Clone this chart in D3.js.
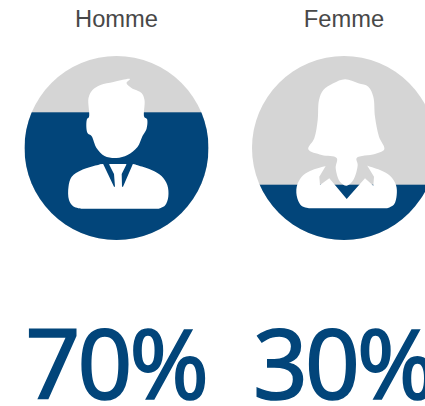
<!DOCTYPE html>
<html><head><meta charset="utf-8">
<script src="https://cdn.jsdelivr.net/npm/d3@7"></script>
<style>html,body{margin:0;padding:0;background:#fff;overflow:hidden}svg{display:block}</style>
</head><body>
<script>
const categories = ["Homme", "Femme"];
const values = [70, 30];
const valueLabels = ["70%", "30%"];
const blue = "#02457a", grey = "#d5d5d5";
const W = 425, H = 406, R = 92, CY = 148;
const x = d3.scaleOrdinal().domain(categories).range([116.5, 344]);
const y = d3.scaleLinear().domain([0, 100]).range([239, 58]);
const svg = d3.select("body").append("svg").attr("width", W).attr("height", H);
const defs = svg.append("defs");
const closedCurve = d3.line().curve(d3.curveCatmullRomClosed.alpha(0.5));
const openCurve = d3.line().curve(d3.curveCatmullRom.alpha(0.5));
const poly = pts => "M" + pts.map(p => p.join(",")).join("L") + "Z";
const cont = s => "L" + s.slice(1);
// icon outlines, pixels relative to the circle centre
const manHead = [[13.5,-69],[10,-65],[15,-60],[25,-55],[28,-48],[27.8,-31],[30.5,-29],[30,-19],[26,-12],[21,-1],[11,7],[0,10],[-12,8],[-20,0],[-25,-12],[-29,-15],[-29.5,-29],[-27.5,-31],[-28,-50],[-24,-58],[-16,-63],[-3,-66]];
const manLeft = [[-14.8,16],[-34.8,22],[-44.8,28.7],[-48,38.7],[-47.5,52],[-43,58.5],[-35,60.7]];
const manRight = [[42,60.7],[48.5,57.5],[51.8,48.7],[50.8,37],[45,28],[35,22],[16.8,16]];
const manWedgeL = [[-13.8,15],[-7.2,15],[-7.2,16.7],[-2.5,26],[-1.5,38.7],[-2.5,38.7]];
const manWedgeR = [[16.8,15],[9.8,15],[9.8,16.7],[5.2,26],[5.5,38.7],[6.5,38.7]];
const womanHair = [[1,-68.7],[14.3,-64.7],[24.3,-61.3],[29.3,-51.3],[31,-31.3],[35,-11.3],[40.3,1.3],[31,6],[12.7,10],[13.7,17],[9.3,32],[2.7,37.7],[-4,33.7],[-8.3,20.3],[-7.3,10],[-22.3,7],[-35.7,1.3],[-29.7,-9.7],[-26.3,-28],[-25,-48],[-20.7,-58],[-10.7,-64.7]];
const womanLeft = [[-18.3,18],[-34,23],[-42.3,28.7],[-47.3,38.7],[-46.7,50.3],[-42.3,58],[-34,60.3]];
const womanRight = [[43,60.3],[50,56.5],[52.7,47],[52,37],[46,27.7],[36,22],[23.3,17.7]];
const womanCollar = [[30,28.7],[29.3,37.7],[21,30.3],[2.7,51],[-14.7,30.3],[-24,37],[-24.7,28.7]];

const g = svg.selectAll("g.p").data(categories).join("g").attr("class","p");
g.each(function(c, i){
  const gg = d3.select(this), cx = x(c), lvl = y(values[i]);
  defs.append("clipPath").attr("id","c"+i).append("circle").attr("cx",cx).attr("cy",CY).attr("r",R);
  gg.append("circle").attr("cx",cx).attr("cy",CY).attr("r",R).attr("fill",grey);
  gg.append("rect").attr("x",cx-R).attr("y",lvl).attr("width",2*R).attr("height",CY+R-lvl).attr("fill",blue).attr("clip-path",`url(#c${i})`);
  gg.append("text").attr("x",cx).attr("y",27).attr("text-anchor","middle").attr("font-family","Liberation Sans, Arial, sans-serif").attr("font-size",23.7).attr("fill","#484848").text(c);
  gg.append("text").attr("x",cx-0.7).attr("y",399).attr("text-anchor","middle").attr("font-family","Noto Sans, sans-serif").attr("font-size",96).attr("letter-spacing",-3).attr("stroke",blue).attr("stroke-width",1.6).attr("fill",blue).text(valueLabels[i]);
});
const man = svg.append("g").attr("transform",`translate(${x("Homme")},${CY})`);
man.append("path").attr("d",closedCurve(manHead)).attr("fill","#fff");
man.append("path").attr("d",openCurve(manLeft)+cont(openCurve(manRight))+"Z").attr("fill","#fff");
man.append("path").attr("d",poly(manWedgeL)).attr("fill",blue);
man.append("path").attr("d",poly(manWedgeR)).attr("fill",blue);
const woman = svg.append("g").attr("transform",`translate(${x("Femme")},${CY})`);
woman.append("path").attr("d",openCurve(womanLeft)+cont(openCurve(womanRight))+"L"+womanCollar.map(p=>p.join(",")).join("L")+"Z").attr("fill","#fff");
woman.append("path").attr("d",closedCurve(womanHair)).attr("fill","#fff");
</script>
</body></html>
